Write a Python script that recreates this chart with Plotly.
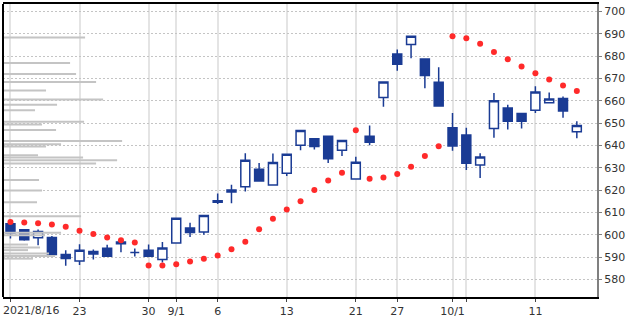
import plotly.graph_objects as go

# ---- data ----
dates = ["8/16", "8/17", "8/18", "8/19", "8/20", "8/23", "8/24", "8/25", "8/26", "8/27",
         "8/30", "8/31", "9/1", "9/2", "9/3", "9/6", "9/7", "9/8", "9/9", "9/10",
         "9/13", "9/14", "9/15", "9/16", "9/17", "9/21", "9/22", "9/24", "9/27", "9/28",
         "9/29", "9/30", "10/1", "10/4", "10/5", "10/6", "10/7", "10/8", "10/11", "10/12",
         "10/13", "10/14"]
opens = [604.9, 602.2, 598.7, 598.8, 591.1, 588.2, 592.5, 593.9, 596.8, 592.0,
         593.1, 588.9, 596.3, 603.0, 601.2, 615.2, 620.0, 621.5, 629.4, 622.3,
         627.6, 640.1, 643.0, 644.1, 637.9, 625.0, 644.1, 661.5, 681.0, 685.2,
         678.8, 668.3, 648.0, 644.7, 631.2, 647.6, 656.8, 654.3, 655.8, 659.1,
         661.0, 646.2]
highs = [605.6, 602.6, 602.3, 599.4, 593.1, 595.7, 593.4, 595.5, 597.3, 593.8,
         595.6, 596.8, 607.6, 605.4, 608.7, 618.5, 622.4, 636.5, 632.2, 636.4,
         636.2, 646.8, 643.3, 644.3, 642.3, 634.9, 649.0, 668.5, 683.0, 689.0,
         678.9, 675.1, 654.6, 648.0, 636.5, 663.5, 658.3, 654.4, 666.5, 663.7,
         662.0, 650.9]
lows = [598.3, 597.3, 595.3, 591.0, 586.1, 586.4, 588.9, 590.1, 592.2, 590.2,
        590.3, 587.6, 596.1, 599.0, 600.0, 613.8, 614.1, 619.4, 624.0, 622.2,
        626.3, 637.9, 638.2, 632.1, 635.3, 624.9, 640.1, 657.3, 673.5, 679.1,
        665.7, 657.6, 637.6, 629.0, 625.4, 643.5, 647.2, 647.6, 654.6, 659.0,
        652.4, 643.2]
closes = [600.8, 597.8, 601.4, 591.2, 589.3, 593.1, 591.4, 590.4, 596.0, 592.0,
          590.4, 594.1, 607.4, 601.0, 608.6, 614.6, 619.2, 633.4, 624.1, 632.4,
          636.1, 646.7, 639.5, 634.1, 642.2, 632.5, 641.4, 668.4, 676.4, 688.9,
          671.4, 657.7, 639.8, 632.0, 634.8, 660.1, 650.9, 650.9, 664.0, 660.8,
          655.4, 649.0]
sar = [605.7, 605.5, 605.2, 604.6, 603.6, 601.8, 600.3, 598.8, 597.5, 596.5,
       586.2, 586.2, 586.8, 588.0, 589.2, 590.7, 593.5, 596.9, 602.5, 607.2,
       611.3, 615.0, 620.0, 624.3, 627.8, 646.8, 625.1, 625.6, 627.2, 630.5,
       635.3, 639.6, 689.0, 688.0, 685.6, 681.9, 678.6, 675.4, 672.4, 669.6,
       666.9, 664.4]

# volume-by-price profile
vp_price = [688.4, 677.0, 672.0, 668.4, 664.6, 660.6, 658.2, 655.8, 650.6, 649.4,
            646.9, 642.0, 640.5, 639.5, 635.6, 634.6, 633.4, 631.9, 624.5, 619.8,
            614.6, 608.3, 600.9, 599.8, 595.6, 594.3, 593.1, 591.6, 590.5, 589.3]
vp_volume = [82, 67, 73, 93, 43, 100, 54, 32, 81, 39,
             53, 119, 58, 43, 35, 80, 114, 93, 36, 39,
             34, 78, 58, 42, 25, 37, 25, 46, 52, 30]

first_label = "2021/8/16"
tick_idx = [0, 5, 10, 12, 15, 20, 25, 28, 32, 33, 38]
tick_text = ["", "23", "30", "9/1", "6", "13", "21", "27", "10/1", "", "11"]
y_ticks = [580, 590, 600, 610, 620, 630, 640, 650, 660, 670, 680, 690, 700]

xs = list(range(len(dates)))

fig = go.Figure()

fig.add_trace(go.Bar(
    y=vp_price, x=vp_volume, orientation="h", xaxis="x2", yaxis="y",
    width=0.9, marker=dict(color="#c4c4c4", line=dict(width=0)),
    showlegend=False, hoverinfo="skip"))

blue = "#1a3b94"
fig.add_trace(go.Candlestick(
    x=xs, open=opens, high=highs, low=lows, close=closes,
    increasing=dict(line=dict(color=blue, width=1.5), fillcolor="white"),
    decreasing=dict(line=dict(color=blue, width=1.5), fillcolor=blue),
    whiskerwidth=0, showlegend=False, hoverinfo="skip"))

fig.add_trace(go.Scatter(
    x=xs, y=sar, mode="markers",
    marker=dict(color="#ff2a2a", size=6, line=dict(width=0)),
    showlegend=False, hoverinfo="skip"))

font = dict(family="DejaVu Sans", size=11, color="#333333")

fig.update_layout(
    width=632, height=329,
    margin=dict(l=3, r=35, t=2, b=32),
    paper_bgcolor="white", plot_bgcolor="white",
    boxgap=0.35, boxgroupgap=0,
    xaxis=dict(
        range=[-0.54, 42.46], tickmode="array", tickvals=tick_idx, ticktext=tick_text,
        showgrid=True, gridcolor="#e4e4e4", gridwidth=2,
        showline=True, linecolor="black", linewidth=2, mirror=True,
        ticks="outside", ticklen=3, tickcolor="#444", tickfont=font,
        zeroline=False, rangeslider=dict(visible=False), fixedrange=True),
    xaxis2=dict(range=[0, 593.4], overlaying="x", visible=False, fixedrange=True),
    yaxis=dict(
        range=[572.1, 703.4], side="right", tickmode="array", tickvals=y_ticks,
        showgrid=True, gridcolor="#c4c4c4", griddash="2px,2px", gridwidth=1,
        showline=True, linecolor="#808080", linewidth=2,
        ticks="outside", ticklen=3, tickcolor="#808080", tickfont=font,
        zeroline=False, fixedrange=True),
    shapes=[dict(type="line", xref="paper", yref="paper", x0=0, x1=0, y0=0, y1=1,
                 line=dict(color="black", width=2))],
    annotations=[dict(text=first_label, xref="paper", yref="paper", x=0, y=0,
                      xanchor="left", yanchor="top", xshift=-2, yshift=-5,
                      showarrow=False, font=font)],
)

fig.write_html("out.html")
